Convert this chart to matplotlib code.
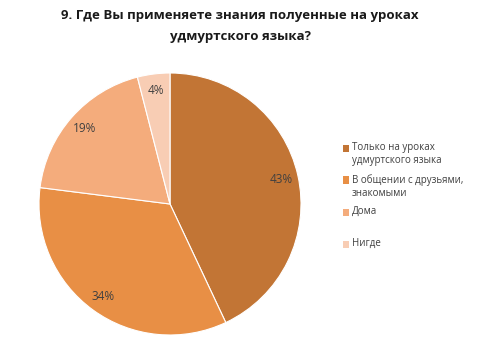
import matplotlib
matplotlib.use("Agg")
import matplotlib.pyplot as plt
from matplotlib.patches import Rectangle

plt.rcParams['font.family'] = ['Open Sans', 'DejaVu Sans']

title = "9. Где Вы применяете знания полуенные на уроках\nудмуртского языка?"
categories = [
    "Только на уроках\nудмуртского языка",
    "В общении с друзьями,\nзнакомыми",
    "Дома",
    "Нигде",
]
shares = [43, 34, 19, 4]
colors = ["#C27535", "#E88F45", "#F4AC7C", "#F8CDB4"]

W, H = 480, 360
fig = plt.figure(figsize=(W / 100, H / 100), dpi=100)

# pie placed by pixel geometry of the reference
cx, cy, r = 170, 204, 131
ax = fig.add_axes([(cx - r) / W, (H - cy - r) / H, 2 * r / W, 2 * r / H])
wedges, texts, autotexts = ax.pie(
    shares, colors=colors, startangle=90, counterclock=False,
    autopct='%1.0f%%', pctdistance=0.87,
    wedgeprops=dict(edgecolor="white", linewidth=0.8),
    textprops=dict(fontsize=8.5, color="#404040"),
)
ax.set_xlim(-1, 1)
ax.set_ylim(-1, 1)
ax.set_aspect("equal")

fig.text(0.5, 1 - 26 / H, title, ha="center", va="center",
         fontsize=9.5, fontweight="bold", linespacing=1.85, color="#1a1a1a")

# legend drawn by hand: entries evenly spaced like the original
y0, step = 148, 32
for i, (lab, col) in enumerate(zip(categories, colors)):
    y = y0 + i * step
    fig.patches.append(Rectangle(((343) / W, 1 - (y + 3.5) / H), 6 / W, 7 / H,
                                 transform=fig.transFigure, facecolor=col,
                                 edgecolor="none"))
    fig.text(352 / W, 1 - (y - 6) / H, lab, ha="left", va="top",
             fontsize=7, color="#404040", linespacing=1.25)

fig.savefig("out.png", dpi=100)
